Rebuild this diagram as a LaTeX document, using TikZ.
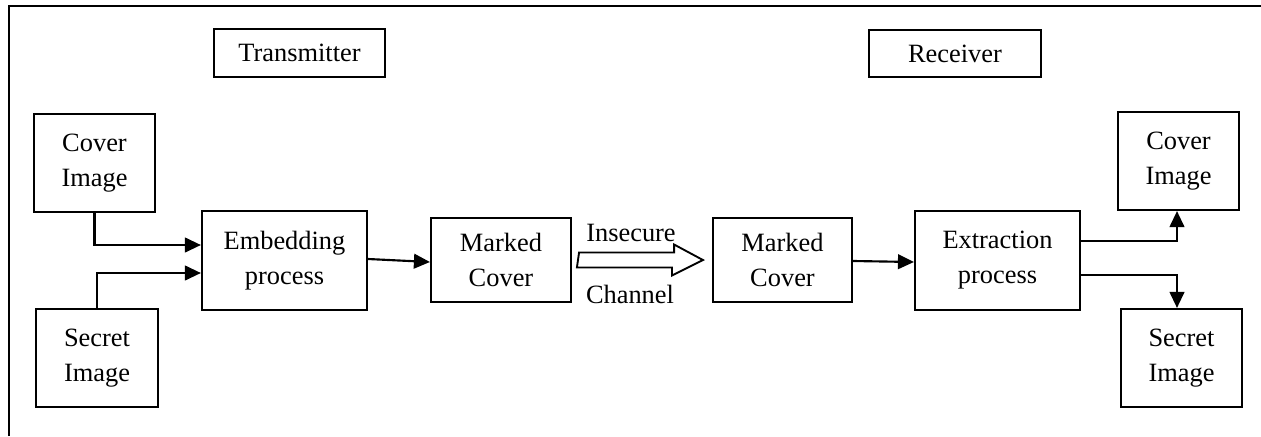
\documentclass[tikz,border=0pt]{standalone}
\usepackage{fontspec}
\setmainfont{Liberation Serif}
\usepackage{tikz}
\usetikzlibrary{arrows.meta,calc}

\begin{document}
\begin{tikzpicture}[
  x=0.75pt, y=-0.75pt,
  every node/.style={font=\fontsize{19.8pt}{26.25pt}\selectfont},
  blk/.style={draw, rectangle, align=center, line width=1.6pt, inner sep=0pt},
  arr/.style={line width=1.6pt, -{Triangle[length=12pt,width=11pt]}}
]
  \useasboundingbox (0,0) rectangle (1261,436);
  % outer frame
  \draw[line width=1.8pt] (9,436) -- (9,6) -- (1261,6);

  \node[blk, minimum width=171*0.75pt, minimum height=48*0.75pt] (tx) at (299.5,53) {Transmitter};
  \node[blk, minimum width=172*0.75pt, minimum height=47*0.75pt] (rx) at (955,53.5) {Receiver};

  \node[blk, minimum width=121*0.75pt, minimum height=98*0.75pt] (coverL) at (94.5,163) {Cover\\Image};
  \node[blk, minimum width=122*0.75pt, minimum height=98*0.75pt] (secretL) at (97,358) {Secret\\Image};
  \node[blk, minimum width=165*0.75pt, minimum height=99*0.75pt] (embed) at (284.5,260.5) {Embedding\\process};
  \node[blk, minimum width=140*0.75pt, minimum height=84*0.75pt] (mcA) at (501,260) {Marked\\Cover};
  \node[blk, minimum width=139*0.75pt, minimum height=84*0.75pt] (mcB) at (782.5,260) {Marked\\Cover};
  \node[blk, minimum width=165*0.75pt, minimum height=99*0.75pt] (extract) at (997.5,260.5) {Extraction\\process};
  \node[blk, minimum width=121*0.75pt, minimum height=98*0.75pt] (coverR) at (1178.5,161) {Cover\\Image};
  \node[blk, minimum width=121*0.75pt, minimum height=98*0.75pt] (secretR) at (1181.5,358) {Secret\\Image};

  \node[anchor=base] (insec) at (631,241) {Insecure};
  \node[anchor=base] (chan) at (630,303) {Channel};

  \draw[arr] (coverL.south) |- ($(embed.west)+(0,-15.5)$);
  \draw[arr] (secretL.north) |- ($(embed.west)+(0,12.5)$);
  \draw[arr] ($(embed.east)+(0,-1.5)$) -- ($(mcA.west)+(0,2)$);
  \draw[line width=1.4pt] ($(mcA.east)+(7,-7.5)$) -- ++(95,0) -- ++(0,-8)
    -- ($(mcB.west)+(-9,0)$) -- ++(-31,15.5) -- ++(0,-8) -- ++(-95,0) -- cycle;
  \draw[arr] ($(mcB.east)+(0,1)$) -- ($(extract.west)+(0,1.5)$);
  \draw[arr] ($(extract.east)+(0,-19.5)$) -| ($(coverR.south)+(-1.5,0)$);
  \draw[arr] ($(extract.east)+(0,14.5)$) -| ($(secretR.north)+(-4.5,0)$);
\end{tikzpicture}
\end{document}
